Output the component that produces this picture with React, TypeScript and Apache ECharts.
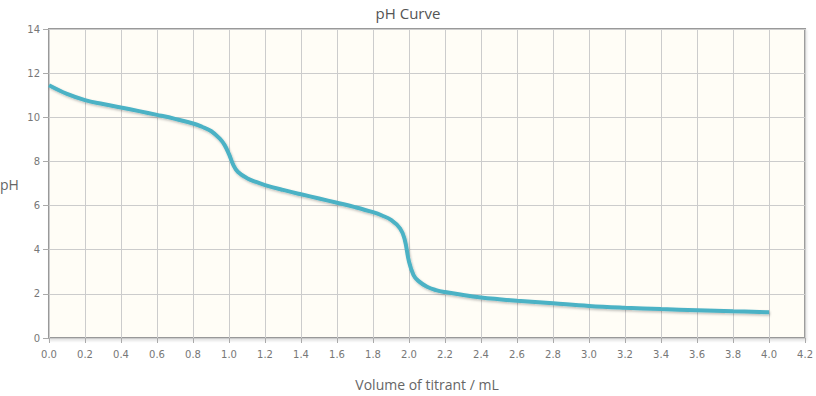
import React, { useEffect, useRef } from "react";
import * as echarts from "echarts";

const volumes = [
  0.0, 0.1, 0.2, 0.3, 0.4, 0.5, 0.6, 0.7, 0.8, 0.85, 0.9, 0.95, 0.975, 1.0,
  1.025, 1.05, 1.1, 1.15, 1.2, 1.3, 1.4, 1.5, 1.6, 1.7, 1.8, 1.85, 1.9, 1.95, 1.975,
  2.0, 2.025, 2.05, 2.1, 2.15, 2.2, 2.3, 2.4, 2.5, 2.6, 2.8, 3.0, 3.2, 3.4, 3.6, 3.8, 4.0,
];
const phValues = [
  11.45, 11.06, 10.78, 10.6, 10.44, 10.28, 10.11, 9.93, 9.72, 9.57, 9.38, 9.02, 8.75, 8.33,
  7.82, 7.52, 7.24, 7.07, 6.93, 6.71, 6.51, 6.32, 6.13, 5.93, 5.7, 5.55, 5.35, 4.97, 4.5,
  3.45, 2.85, 2.6, 2.32, 2.17, 2.08, 1.95, 1.84, 1.76, 1.69, 1.57, 1.45, 1.37, 1.31, 1.26, 1.21, 1.17,
];

const chartTitle = "pH Curve";
const xTitle = "Volume of titrant / mL";
const yTitle = "pH";

export default function App() {
  const ref = useRef<HTMLDivElement>(null);
  useEffect(() => {
    if (!ref.current) return;
    const chart = echarts.init(ref.current, null, { renderer: "svg" });
    const data = volumes.map((v, i) => [v, phValues[i]]);
    chart.setOption({
      animation: false,
      backgroundColor: "#ffffff",
      title: {
        text: chartTitle,
        left: "center",
        top: 0,
        textStyle: { fontFamily: "Open Sans", fontSize: 15, fontWeight: "normal", color: "#555" },
      },
      grid: {
        left: 49,
        right: 9,
        top: 29,
        bottom: 55,
        show: true,
        backgroundColor: "#fffdf6",
        borderColor: "#999",
        borderWidth: 2,
        shadowColor: "rgba(0,0,0,0.10)",
        shadowBlur: 2,
        shadowOffsetX: 1,
        shadowOffsetY: 2,
      },
      xAxis: {
        type: "value",
        min: 0,
        max: 4.2,
        interval: 0.2,
        name: xTitle,
        nameLocation: "middle",
        nameGap: 39,
        nameTextStyle: { fontFamily: "Open Sans", fontSize: 14, color: "#666" },
        axisLine: { show: false },
        axisTick: { show: true, length: 5, lineStyle: { color: "#aaa" } },
        axisLabel: {
          margin: 11,
          fontFamily: "DejaVu Sans",
          fontSize: 10,
          color: "#777",
          formatter: (v: number) => v.toFixed(1),
        },
        splitLine: { show: true, lineStyle: { color: "#ccc", width: 1 } },
      },
      yAxis: {
        type: "value",
        min: 0,
        max: 14,
        interval: 2,
        axisLine: { show: false },
        axisTick: { show: true, length: 6, lineStyle: { color: "#aaa" } },
        axisLabel: { margin: 9, fontFamily: "DejaVu Sans", fontSize: 10, color: "#777" },
        splitLine: { show: true, lineStyle: { color: "#ccc", width: 1 } },
      },
      graphic: [
        {
          type: "text",
          left: 0,
          top: 177,
          style: { text: yTitle, fontFamily: "Open Sans", fontSize: 14, fill: "#666" },
        },
      ],
      series: [
        {
          type: "line",
          data,
          showSymbol: false,
          symbol: "none",
          smooth: 0.4,
          lineStyle: {
            color: "#4bb2c5",
            width: 4,
            shadowColor: "rgba(0,0,0,0.25)",
            shadowBlur: 2,
            shadowOffsetX: 1,
            shadowOffsetY: 1.5,
          },
          itemStyle: { color: "#4bb2c5" },
        },
      ],
    });
    return () => chart.dispose();
  }, []);
  return <div ref={ref} style={{ width: 816, height: 396, position: "absolute", left: 0, top: 0 }} />;
}
